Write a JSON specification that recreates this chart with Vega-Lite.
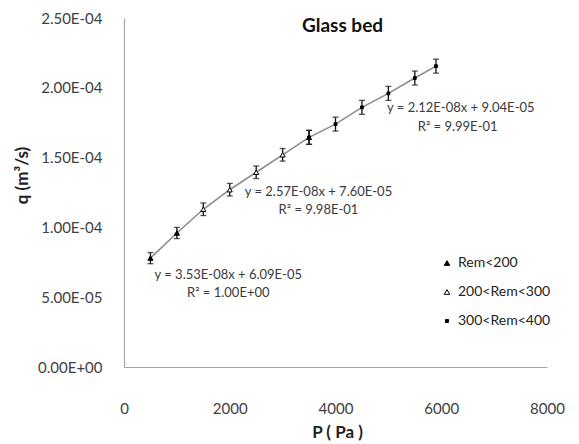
{
  "$schema": "https://vega.github.io/schema/vega-lite/v6.json",
  "width": 423,
  "height": 349,
  "autosize": "none",
  "padding": {"left": 124, "top": 18, "right": 32, "bottom": 77},
  "background": "white",
  "config": {
    "font": "Lato",
    "view": {"stroke": null},
    "axis": {"grid": false, "ticks": false, "domainColor": "#a6a6a6", "domainWidth": 1.2, "labelFont": "Lato", "labelFontSize": 15, "labelColor": "#404040", "titleFont": "Lato", "titleFontWeight": "bold", "titleFontSize": 17, "titleColor": "#222222"}
  },
  "title": {"text": "Glass bed", "fontSize": 19, "font": "Lato", "fontWeight": "bold", "color": "#111111", "anchor": "middle", "dx": 7, "offset": -44, "baseline": "bottom"},
  "data": {"values": [
    {"P": 500, "q": 7.80e-5, "err": 4.0e-6, "group": "Rem<200"},
    {"P": 1000, "q": 9.60e-5, "err": 4.0e-6, "group": "Rem<200"},
    {"P": 1500, "q": 1.13e-4, "err": 4.5e-6, "group": "200<Rem<300"},
    {"P": 2000, "q": 1.27e-4, "err": 4.5e-6, "group": "200<Rem<300"},
    {"P": 2500, "q": 1.395e-4, "err": 4.5e-6, "group": "200<Rem<300"},
    {"P": 3000, "q": 1.52e-4, "err": 4.5e-6, "group": "200<Rem<300"},
    {"P": 3500, "q": 1.645e-4, "err": 5.0e-6, "group": "200<Rem<300"},
    {"P": 3500, "q": 1.645e-4, "err": 5.0e-6, "group": "300<Rem<400"},
    {"P": 4000, "q": 1.74e-4, "err": 5.0e-6, "group": "300<Rem<400"},
    {"P": 4500, "q": 1.86e-4, "err": 5.0e-6, "group": "300<Rem<400"},
    {"P": 5000, "q": 1.96e-4, "err": 5.0e-6, "group": "300<Rem<400"},
    {"P": 5500, "q": 2.07e-4, "err": 5.0e-6, "group": "300<Rem<400"},
    {"P": 5900, "q": 2.155e-4, "err": 5.0e-6, "group": "300<Rem<400"}
  ]},
  "encoding": {
    "x": {"field": "P", "type": "quantitative", "scale": {"domain": [0, 8000], "nice": false},
      "axis": {"values": [0, 2000, 4000, 6000, 8000], "format": "d", "title": "P ( Pa )", "labelPadding": 34, "titleX": 213, "titleY": 65, "titleBaseline": "middle", "labelFlush": false}},
    "y": {"field": "q", "type": "quantitative", "scale": {"domain": [0, 0.00025], "nice": false}, "title": "q  (m³/s)",
      "axis": {"values": [0, 0.00005, 0.0001, 0.00015, 0.0002, 0.00025], "title": "q  (m³/s)", "labelPadding": 22, "titleX": -102, "titleY": 157, "titleAngle": 270, "titleAlign": "center", "titleBaseline": "middle",
        "labelExpr": "datum.value == 0 ? '0.00E+00' : format(datum.value / pow(10, floor(log(datum.value) / LN10 + 1e-9)), '.2f') + 'E-0' + (-floor(log(datum.value) / LN10 + 1e-9))"}}
  },
  "layer": [
    {
      "mark": {"type": "line", "color": "#8c8c8c", "strokeWidth": 1.6},
      "encoding": {
        "order": {"field": "P", "type": "quantitative"}
      }
    },
    {
      "mark": {"type": "errorbar", "ticks": {"size": 6, "color": "#111111"}, "color": "#111111", "thickness": 1.3},
      "encoding": {
        "yError": {"field": "err"}
      }
    },
    {
      "mark": {"type": "point", "filled": true, "stroke": "#000000", "strokeWidth": 1, "opacity": 1, "size": 26},
      "encoding": {
        "shape": {"field": "group", "type": "nominal", "scale": {"domain": ["Rem<200", "200<Rem<300", "300<Rem<400"], "range": ["triangle-up", "triangle-up", "M-0.55,-0.55H0.55V0.55H-0.55Z"]},
          "legend": {"title": null, "orient": "none", "legendX": 316, "legendY": 238, "labelFontSize": 14, "labelColor": "#222222", "labelFont": "Lato", "rowPadding": 15, "symbolStrokeWidth": 1, "symbolSize": 30}},
        "fill": {"field": "group", "type": "nominal", "scale": {"domain": ["Rem<200", "200<Rem<300", "300<Rem<400"], "range": ["#000000", "#ffffff", "#000000"]}}
      }
    },
    {
      "data": {"values": [
        {"label": "y = 3.53E-08x + 6.09E-05", "lx": 1972, "ly": 6.59e-5},
        {"label": "R² = 1.00E+00", "lx": 1972, "ly": 5.3e-5},
        {"label": "y = 2.57E-08x + 7.60E-05", "lx": 3678, "ly": 1.2536e-4},
        {"label": "R² = 9.98E-01", "lx": 3678, "ly": 1.1246e-4},
        {"label": "y = 2.12E-08x + 9.04E-05", "lx": 6370, "ly": 1.855e-4},
        {"label": "R² = 9.99E-01", "lx": 6310, "ly": 1.719e-4}
      ]},
      "mark": {"type": "text", "fontSize": 13, "fill": "#3a3a3a", "stroke": null, "fontWeight": "normal", "font": "Lato", "align": "center", "baseline": "middle"},
      "encoding": {
        "x": {"field": "lx", "type": "quantitative"},
        "y": {"field": "ly", "type": "quantitative"},
        "text": {"field": "label"}
      }
    }
  ]
}
